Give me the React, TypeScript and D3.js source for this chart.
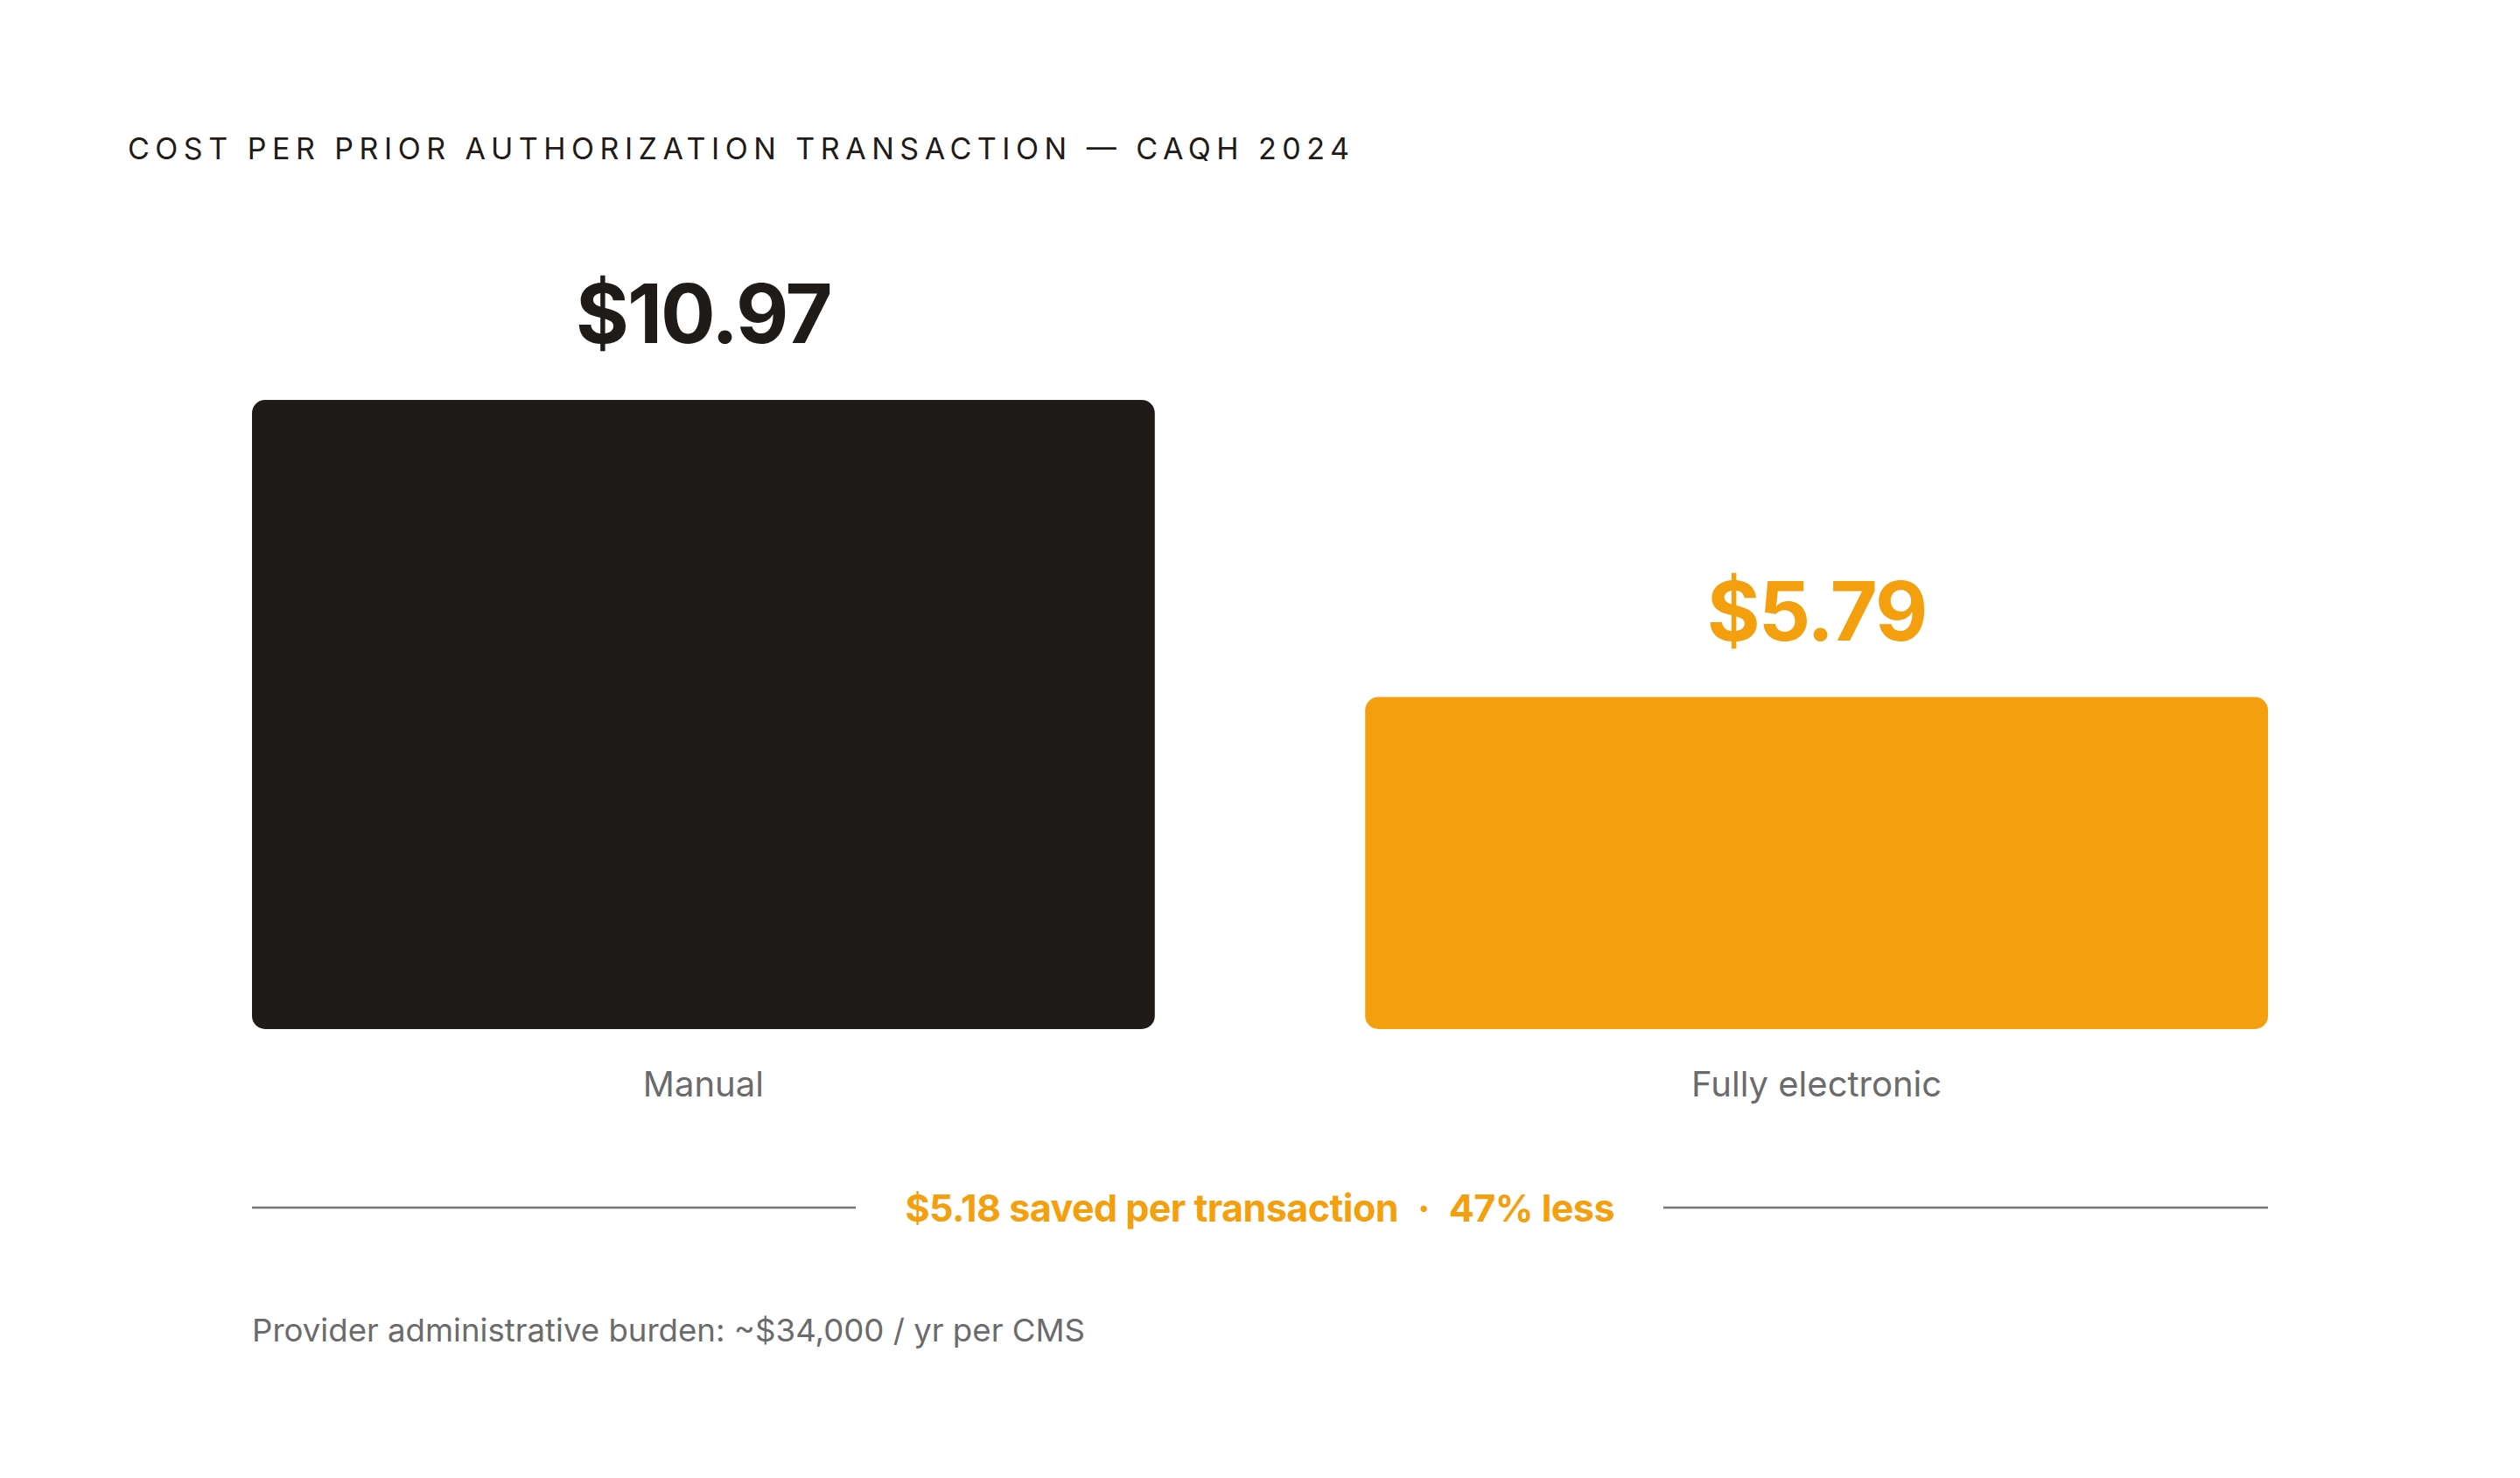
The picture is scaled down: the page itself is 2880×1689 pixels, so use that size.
import React, { useEffect, useRef } from "react";
import * as d3 from "d3";

// data
const categories = ["Manual", "Fully electronic"];
const costs = [10.97, 5.79];
const valueLabels = ["$10.97", "$5.79"];
const barColors = ["#1f1b18", "#f39f0e"];
const title = "COST PER PRIOR AUTHORIZATION TRANSACTION — CAQH 2024";
const savingsParts = ["$5.18 saved per transaction", "·", "47% less"];
const footnote = "Provider administrative burden: ~$34,000 / yr per CMS";

const W = 2880;
const H = 1689;
const FONT = "Inter, 'DejaVu Sans', sans-serif";

const App: React.FC = () => {
  const ref = useRef<SVGSVGElement | null>(null);

  useEffect(() => {
    const svg = d3.select(ref.current);
    svg.selectAll("*").remove();

    const left = 288;
    const right = 2592;
    const baseY = 1176;

    const x = d3
      .scaleBand<string>()
      .domain(categories)
      .range([left, right])
      .paddingInner(0.189)
      .paddingOuter(0);

    const y = d3
      .scaleLinear()
      .domain([0, d3.max(costs) as number])
      .range([baseY, 457]);

    const rows = categories.map((c, i) => ({
      cat: c,
      value: costs[i],
      label: valueLabels[i],
      color: barColors[i],
    }));

    // title
    svg
      .append("text")
      .attr("x", 146)
      .attr("y", 182)
      .attr("font-family", FONT)
      .attr("font-size", 34)
      .attr("font-weight", 400)
      .attr("fill", "#1f1b18")
      .attr("textLength", 1396)
      .attr("lengthAdjust", "spacing")
      .text(title);

    // bars
    svg
      .append("g")
      .selectAll("rect")
      .data(rows)
      .join("rect")
      .attr("x", (d) => x(d.cat) as number)
      .attr("y", (d) => y(d.value))
      .attr("width", x.bandwidth())
      .attr("height", (d) => baseY - y(d.value))
      .attr("rx", 15)
      .attr("ry", 15)
      .attr("fill", (d) => d.color);

    // value labels
    svg
      .append("g")
      .selectAll("text")
      .data(rows)
      .join("text")
      .attr("x", (d) => (x(d.cat) as number) + x.bandwidth() / 2)
      .attr("y", (d) => y(d.value) - 65)
      .attr("text-anchor", "middle")
      .attr("font-family", FONT)
      .attr("font-size", 93)
      .attr("font-weight", 700)
      .attr("letter-spacing", -2)
      .attr("fill", (d) => d.color)
      .text((d) => d.label);

    // category labels
    svg
      .append("g")
      .selectAll("text")
      .data(rows)
      .join("text")
      .attr("x", (d) => (x(d.cat) as number) + x.bandwidth() / 2)
      .attr("y", 1253)
      .attr("text-anchor", "middle")
      .attr("font-family", FONT)
      .attr("font-size", 40)
      .attr("fill", "#6b6b6b")
      .text((d) => d.cat);

    // savings line
    const mid = (left + right) / 2;
    const sY = 1380;
    svg
      .append("line")
      .attr("x1", left)
      .attr("x2", 978)
      .attr("y1", sY)
      .attr("y2", sY)
      .attr("stroke", "#777")
      .attr("stroke-width", 2.5);
    svg
      .append("line")
      .attr("x1", 1901)
      .attr("x2", right)
      .attr("y1", sY)
      .attr("y2", sY)
      .attr("stroke", "#777")
      .attr("stroke-width", 2.5);

    const st = svg
      .append("text")
      .attr("x", mid)
      .attr("y", 1396)
      .attr("text-anchor", "middle")
      .attr("font-family", FONT)
      .attr("font-size", 43)
      .attr("font-weight", 700)
      .attr("fill", "#f39f0e")
      .attr("textLength", 811)
      .attr("lengthAdjust", "spacing");
    st.append("tspan").text(savingsParts[0]);
    st.append("tspan").attr("dx", 22).text(savingsParts[1]);
    st.append("tspan").attr("dx", 22).text(savingsParts[2]);

    // footnote
    svg
      .append("text")
      .attr("x", left)
      .attr("y", 1533)
      .attr("font-family", FONT)
      .attr("font-size", 36)
      .attr("fill", "#6b6b6b")
      .attr("textLength", 952)
      .attr("lengthAdjust", "spacingAndGlyphs")
      .text(footnote);
  }, []);

  return (
    <svg
      ref={ref}
      width={W}
      height={H}
      style={{ position: "absolute", top: 0, left: 0, background: "#fff" }}
    />
  );
};

export default App;
